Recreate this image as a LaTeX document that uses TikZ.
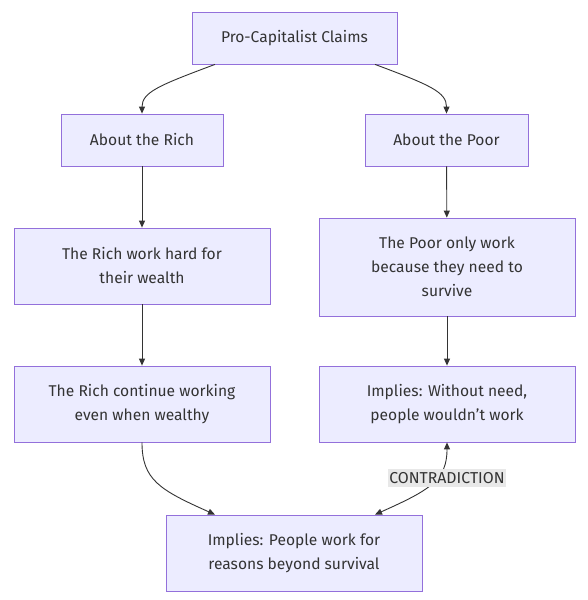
\documentclass[tikz,border=0pt]{standalone}
\usepackage{fontspec}
\setmainfont{Fira Sans}
\usetikzlibrary{arrows.meta}
\definecolor{boxfill}{HTML}{ECECFF}
\definecolor{boxline}{HTML}{9370DB}
\definecolor{edgecol}{HTML}{333333}
\definecolor{lblbg}{HTML}{E8E8E8}
\definecolor{txt}{HTML}{333333}
\begin{document}
\begin{tikzpicture}[x=1pt,y=-1pt,
  box/.style={draw=boxline, fill=boxfill, line width=0.8pt, text=txt,
    font=\fontsize{15.6}{24}\selectfont, align=center, inner sep=0pt},
  edge/.style={draw=edgecol, line width=0.9pt, -{Triangle[length=7pt,width=6pt]}},
  biedge/.style={draw=edgecol, line width=0.9pt, {Triangle[length=7pt,width=6pt]}-{Triangle[length=7pt,width=6pt]}},
  lbl/.style={fill=lblbg, text=txt, font=\fontsize{15.8}{18}\selectfont, inner xsep=1pt, inner ysep=3pt}]
\useasboundingbox (0,0) rectangle (588,600);
\fill[white] (0,0) rectangle (588,600);
\node[box, minimum width=205pt, minimum height=52pt] (top) at (294.5,38) {Pro-Capitalist Claims};
\node[box, minimum width=162pt, minimum height=52pt] (rich) at (142,140) {About the Rich};
\node[box, minimum width=163pt, minimum height=52pt] (poor) at (446.5,140) {About the Poor};
\node[box, minimum width=256pt, minimum height=76pt] (richwork) at (142,266) {The Rich work hard for\\their wealth};
\node[box, minimum width=256pt, minimum height=98pt] (poorwork) at (447,267) {The Poor only work\\because they need to\\survive};
\node[box, minimum width=256pt, minimum height=76pt] (richcont) at (142,404) {The Rich continue working\\even when wealthy};
\node[box, minimum width=256pt, minimum height=76pt] (without) at (447,404) {Implies: Without need,\\people wouldn{\char"0027}t work};
\node[box, minimum width=256pt, minimum height=76pt] (beyond) at (294,553) {Implies: People work for\\reasons beyond survival};

\draw[edge] ([xshift=-79.5pt]top.south) .. controls (160,85) and (142,92) .. (rich.north);
\draw[edge] ([xshift=80.5pt]top.south) .. controls (430,85) and (446.5,92) .. (poor.north);
\draw[edge] (rich) -- (richwork);
\draw[edge] (poor) -- (poorwork);
\draw[edge] (richwork) -- (richcont);
\draw[edge] (poorwork) -- (without);
\draw[edge] (richcont.south) .. controls (142,480) and (160,490) .. ([xshift=-79pt]beyond.north);
\draw[biedge] ([xshift=81pt]beyond.north) .. controls (430,490) and (447,480) .. (without.south);
\coordinate (lblpos) at (447,478);
\node[lbl] (contra) at (lblpos) {CONTRADICTION};
\end{tikzpicture}
\end{document}
